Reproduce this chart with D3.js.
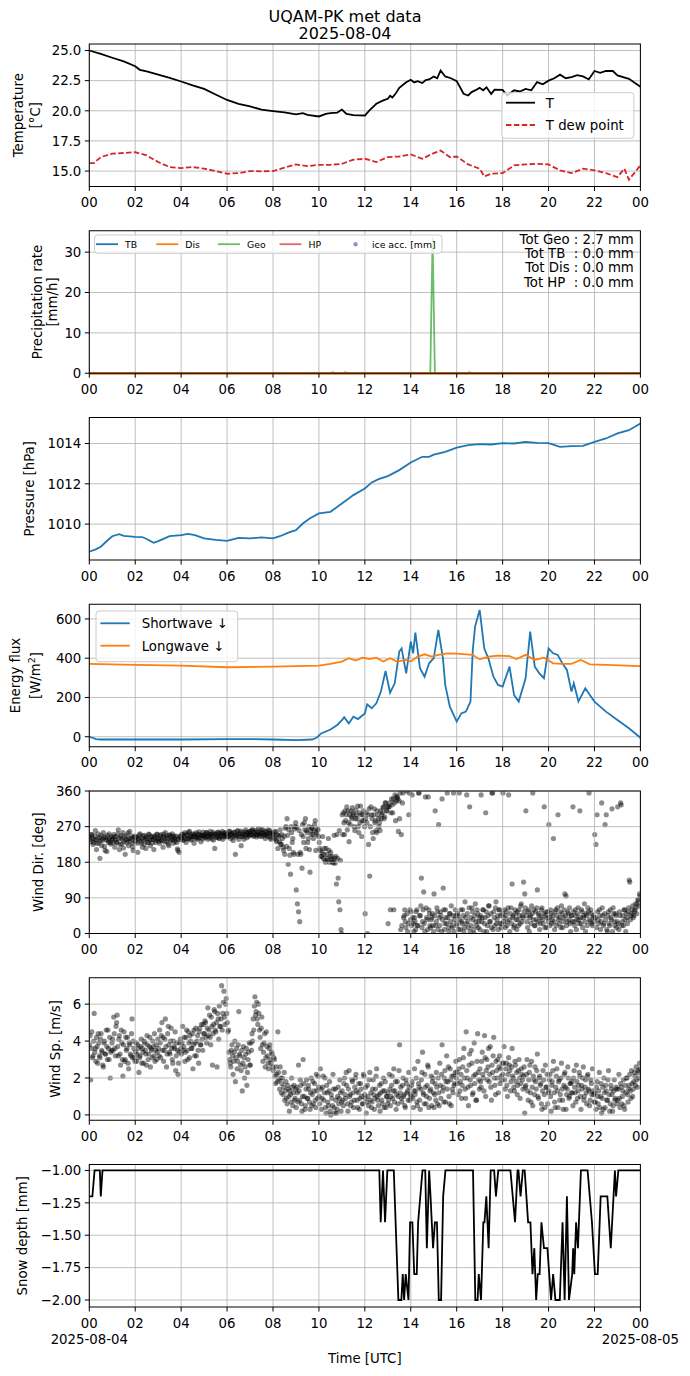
<!DOCTYPE html>
<html><head><meta charset="utf-8">
<script src="https://cdn.jsdelivr.net/npm/d3@7"></script>
<style>body{margin:0;background:#fff} text{font-family:"DejaVu Sans",sans-serif;fill:#000}</style>
</head><body><svg id="c" width="690" height="1376" xmlns="http://www.w3.org/2000/svg"></svg>
<script>
// ---------------- DATA ----------------
const hourTicks = [0,2,4,6,8,10,12,14,16,18,20,22,24];
const hourLabels = ["00","02","04","06","08","10","12","14","16","18","20","22","00"];

const tHours = [0,0.5,1,1.5,2,2.2,2.5,3,3.5,4,4.5,5,5.5,6,6.5,7,7.5,8,8.5,9,9.3,9.5,10,10.3,10.5,10.8,11,11.2,11.5,12,12.2,12.5,12.8,13,13.1,13.2,13.35,13.5,13.8,14,14.15,14.3,14.5,14.65,14.8,15,15.15,15.3,15.5,15.75,16,16.3,16.5,16.65,16.8,17,17.15,17.3,17.5,17.65,18,18.2,18.5,18.75,19,19.25,19.5,19.75,20,20.25,20.5,20.75,21,21.25,21.5,21.75,22,22.25,22.5,22.8,23,23.5,24];
const tVals = [25.0,24.72,24.4,24.1,23.7,23.4,23.26,23.0,22.73,22.43,22.1,21.82,21.35,20.9,20.58,20.36,20.1,19.97,19.86,19.7,19.8,19.67,19.53,19.75,19.8,19.85,20.1,19.75,19.64,19.61,20.03,20.58,20.86,20.99,21.25,21.1,21.45,21.9,22.37,22.57,22.35,22.45,22.3,22.55,22.6,22.85,22.7,23.35,22.85,22.7,22.46,21.41,21.27,21.55,21.69,21.9,21.7,21.95,21.4,21.75,21.74,21.27,21.7,21.6,21.82,21.7,22.38,22.2,22.5,22.7,23.0,22.7,22.8,22.95,22.85,22.6,23.3,23.15,23.3,23.3,22.93,22.65,22.0];

const tdHours = [0,0.2,0.5,1,1.5,2,2.5,3,3.5,4,4.5,5,5.5,6,6.5,7,7.5,8,8.5,9,9.5,10,10.5,11,11.5,12,12.5,13,13.5,14,14.5,15,15.3,15.7,16,16.5,17,17.2,17.5,18,18.5,19,19.5,20,20.5,21,21.5,22,22.5,23,23.3,23.5,24];
const tdVals = [15.66,15.66,16.16,16.44,16.5,16.57,16.3,15.75,15.33,15.25,15.33,15.2,15.0,14.78,14.83,15.0,14.98,15.0,15.28,15.55,15.41,15.52,15.52,15.6,15.94,16.02,15.75,16.16,16.21,16.38,16.02,16.49,16.7,16.16,16.21,15.55,15.2,14.56,14.78,14.83,15.47,15.55,15.6,15.55,15.06,14.83,15.2,15.06,14.83,14.5,15.2,14.28,15.47];

const precipHours = [0,10.55,10.6,10.65,11.1,11.15,11.2,14.85,14.95,15.05,16.5,16.55,16.6,24];
const precipGeo = [0,0,0.3,0,0,0.3,0,0,33.6,0,0,0.3,0,0];
const precipTB = [0,0,0,0,0,0,0,0,0,0,0,0,0,0];
const precipDis = [0,0,0,0,0,0,0,0,0,0,0,0,0,0];
const precipHP = [0,0,0,0,0,0,0,0,0,0,0,0,0,0];
const precipTotals = ["Tot Geo : 2.7 mm","Tot TB  : 0.0 mm","Tot Dis : 0.0 mm","Tot HP  : 0.0 mm"];

const pHours = [0,0.3,0.5,0.8,1.0,1.3,1.5,2.0,2.3,2.5,2.8,3.0,3.5,4.0,4.3,4.6,5.0,5.5,6.0,6.5,7.0,7.5,8.0,8.3,8.7,9.0,9.3,9.6,10.0,10.5,11.0,11.5,12.0,12.3,12.6,13.0,13.5,14.0,14.5,14.8,15.0,15.5,16.0,16.5,17.0,17.5,18.0,18.5,19.0,19.5,20.0,20.5,21.0,21.5,22.0,22.5,23.0,23.5,24.0];
const pVals = [1008.63,1008.76,1008.88,1009.2,1009.4,1009.5,1009.42,1009.37,1009.36,1009.26,1009.07,1009.16,1009.4,1009.45,1009.52,1009.45,1009.29,1009.22,1009.17,1009.32,1009.29,1009.34,1009.29,1009.4,1009.59,1009.7,1010.03,1010.28,1010.53,1010.61,1011.02,1011.44,1011.77,1012.07,1012.23,1012.38,1012.68,1013.06,1013.34,1013.34,1013.45,1013.59,1013.8,1013.92,1013.97,1013.95,1014.02,1014.0,1014.08,1014.03,1014.02,1013.83,1013.87,1013.88,1014.08,1014.25,1014.5,1014.66,1014.99];

const swHours = [0,0.3,0.5,2,4,6,7,8,9,9.7,9.9,10.1,10.5,10.8,11.0,11.1,11.3,11.5,11.7,12.0,12.1,12.3,12.5,12.7,12.9,13.1,13.3,13.5,13.6,13.8,14.0,14.1,14.2,14.4,14.6,14.8,15.0,15.2,15.4,15.5,15.7,16.0,16.2,16.4,16.6,16.7,16.8,17.0,17.2,17.4,17.6,17.8,18.0,18.3,18.5,18.7,19.0,19.2,19.4,19.6,19.8,20.0,20.2,20.4,20.6,20.8,21.0,21.1,21.3,21.6,21.8,22.0,22.5,23.0,23.5,24.0];
const swVals = [0,-12,-14,-14,-14,-12,-12,-14,-17,-14,-5,17,37,60,85,99,68,102,90,119,165,145,170,230,335,224,272,434,450,323,485,425,530,349,306,374,400,544,400,264,153,77,119,128,179,442,561,646,450,391,306,264,255,357,212,179,298,536,357,323,298,450,425,417,374,340,230,272,179,247,212,179,128,85,43,-5];
const lwHours = [0,2,4,6,8,10,10.5,11,11.3,11.6,11.9,12.2,12.5,12.8,13.1,13.4,13.8,14.0,14.3,14.6,14.9,15.2,15.6,16.0,16.7,17.0,17.4,17.8,18.3,18.6,19.0,19.4,19.8,20.2,20.6,21.0,21.4,21.8,22.5,24.0];
const lwVals = [371,366,362,354,357,362,371,383,400,388,403,396,403,383,400,383,391,383,408,420,408,417,425,423,417,394,408,413,411,396,417,391,403,374,371,371,391,369,366,360];

// wind: one row per hour, 40 samples (every 1.5 min)
const windDir = [
[245,238,232,250,250,241,225,230,238,247,260,236,212,228,240,252,228,243,190,235,248,222,235,240,255,244,220,210,242,236,207,248,236,230,252,241,230,226,245,238],
[238,229,250,244,218,236,245,231,230,252,262,240,212,225,242,248,226,238,255,216,232,244,200,237,248,229,236,254,222,240,258,233,240,246,228,219,210,242,246,235],
[232,243,245,228,205,238,240,249,252,233,228,241,218,247,236,226,248,239,215,244,240,230,230,251,250,236,222,244,238,229,245,238,212,247,242,230,235,251,250,239],
[240,233,228,246,250,236,235,243,218,251,245,232,255,241,232,247,240,226,222,249,248,236,236,245,252,238,228,247,242,233,238,246,230,214,210,238,205,244,246,237],
[242,251,250,238,235,247,255,241,230,252,248,239,240,256,258,244,236,249,245,238,252,246,228,251,246,240,255,244,238,250,242,257,250,243,232,248,248,239,256,247],
[250,244,242,255,255,246,238,252,248,242,258,250,245,239,252,256,236,247,215,252,250,243,244,255,256,241,240,253,248,246,252,258,238,244,255,249,246,255,250,244],
[252,246,245,258,258,249,240,253,250,244,235,256,255,247,200,244,248,258,260,251,238,246,252,259,222,245,256,251,245,238,250,257,262,249,242,254,255,246,248,258],
[258,251,250,262,262,248,245,257,255,250,260,244,248,256,265,251,252,246,256,262,245,254,262,248,250,257,240,250,258,246,252,262,246,253,260,241,238,254,255,249],
[250,243,240,256,258,236,232,250,215,245,248,232,262,226,225,250,240,218,210,246,200,266,270,220,290,248,175,262,215,198,150,270,255,230,240,205,200,264,270,280],
[110,268,75,200,55,260,30,205,200,250,165,275,245,230,280,262,290,215,260,255,230,240,270,212,155,260,250,268,265,250,240,260,275,285,210,255,250,264,262,245],
[230,215,210,195,195,205,245,190,200,215,185,180,215,200,190,185,240,210,180,195,205,188,195,180,185,178,248,190,178,195,125,250,190,140,80,260,60,185,10,0],
[300,250,305,280,250,310,285,300,320,262,310,280,232,300,275,310,295,290,318,305,300,270,260,290,312,300,290,322,270,255,305,280,322,300,245,285,300,310,285,270],
[50,290,305,280,0,300,225,315,145,270,320,300,290,255,240,300,315,280,285,260,255,310,300,290,270,280,260,310,290,300,305,318,320,290,295,330,330,310,310,320],
[25,320,320,330,60,305,340,325,305,340,60,330,350,285,335,345,345,340,258,335,290,355,10,250,20,330,355,40,45,60,30,15,360,50,5,25,300,355,60,35],
[55,20,350,40,25,5,40,30,10,55,60,20,20,355,355,45,45,70,140,15,30,60,105,25,5,345,65,40,35,10,345,60,50,20,15,35,40,50,20,5],
[100,45,310,20,30,65,55,10,275,40,20,55,45,5,340,35,115,60,10,25,60,40,25,355,40,15,5,50,50,30,70,20,15,45,355,5,35,60,45,25],
[20,50,45,10,355,35,10,60,30,25,60,45,5,15,80,40,25,350,50,30,15,65,320,5,40,20,65,55,35,10,0,45,75,30,20,60,50,15,30,40],
[10,45,350,30,40,60,60,5,25,40,305,55,5,20,45,70,70,30,30,50,15,355,355,10,55,40,20,65,80,25,35,45,10,60,60,25,45,15,25,50],
[355,30,40,60,15,45,55,20,30,65,350,35,5,50,65,25,125,40,45,15,20,60,50,35,10,55,35,20,60,45,25,70,75,30,45,40,130,55,100,65],
[310,45,30,15,55,60,5,40,45,25,70,50,355,35,60,20,20,55,35,65,110,30,50,45,10,25,40,60,65,35,25,50,320,15,45,55,15,40,55,30],
[275,40,20,60,50,25,35,45,240,30,10,55,60,20,45,65,300,35,25,40,55,15,70,50,15,30,40,60,100,45,95,20,30,55,50,35,65,25,5,45],
[45,30,320,55,30,20,60,45,10,35,50,65,35,25,310,40,25,60,55,15,40,45,75,30,5,50,45,20,65,55,355,35,30,60,50,25,20,45,40,30],
[250,40,225,15,300,55,35,25,60,45,10,30,330,65,45,20,25,50,275,35,300,10,5,45,55,25,20,60,40,35,315,5,65,50,30,20,50,45,15,30],
[320,25,10,55,45,330,325,20,30,45,20,60,60,35,5,50,40,25,55,65,135,130,35,45,50,60,70,40,45,55,60,75,65,50,75,85,85,70,100,95]
];
const windSp = [
[3.8,4.3,1.9,3.6,4.5,3.1,3.2,4.0,5.5,3.4,3.6,2.9,4.2,3.7,2.8,4.4,3.9,3.2,3.1,4.1,4.4,3.5,3.4,2.7,2.6,3.9,4.0,3.3,3.3,4.6,3.7,3.0,4.6,3.6,3.0,4.2,2.0,3.4,3.5,3.9],
[4.1,3.5,5.3,4.4,3.6,3.2,4.8,5.0,5.4,3.7,3.2,4.1,4.3,3.3,2.7,4.6,3.9,3.0,2.1,3.8,4.5,2.9,3.0,4.2,3.5,3.6,4.2,2.8,2.5,3.9,3.8,3.3,3.2,4.4,5.2,3.1,4.0,3.6,3.1,2.9],
[3.4,3.9,2.9,3.3,3.8,3.6,2.3,3.1,3.2,3.7,4.1,2.8,3.6,3.4,2.8,4.0,3.9,3.5,3.3,2.7,4.3,3.8,3.0,3.3,3.7,4.2,2.6,3.6,3.5,3.1,4.0,3.7,3.2,4.4,2.9,3.5,3.8,3.0,3.4,4.1],
[3.6,3.2,4.6,3.9,3.1,4.3,5.0,3.5,4.2,2.9,3.5,4.1,5.2,3.7,2.6,3.3,4.4,4.8,3.8,3.4,3.3,4.0,4.7,3.6,3.0,2.8,4.0,3.7,3.6,4.5,2.4,3.2,3.9,3.5,2.2,2.8,3.4,3.9,4.1,3.6],
[3.3,3.9,4.8,3.5,3.7,4.2,2.9,3.4,4.2,4.6,3.5,3.0,4.5,3.9,3.1,4.3,4.0,3.6,3.6,4.4,2.5,3.8,4.6,3.2,3.9,4.7,3.2,4.0,4.3,3.5,2.8,4.5,4.7,3.8,3.8,4.9,4.1,3.5,4.9,4.4],
[4.4,5.1,5.0,4.2,3.9,4.7,5.8,4.3,4.6,5.4,4.2,3.8,5.3,4.8,2.7,4.4,4.9,5.7,5.6,4.6,4.5,5.0,2.6,5.5,5.2,4.1,5.9,4.8,4.8,5.2,7.0,4.6,5.5,6.1,6.7,5.3,4.9,6.0,6.3,5.5],
[5.0,4.5,4.6,3.4,3.0,2.8,2.6,3.5,3.8,3.2,2.2,2.9,3.4,4.0,1.8,3.1,3.6,2.5,2.9,3.8,5.6,3.3,3.2,2.7,2.4,3.5,1.3,2.8,3.7,3.1,2.0,2.6,3.3,3.6,1.6,2.3,3.0,3.4,3.9,2.7],
[2.7,3.9,3.5,4.4,4.0,5.2,4.6,5.9,6.4,5.4,5.6,6.1,5.2,4.9,6.0,5.5,4.6,4.2,3.6,4.7,5.3,3.8,2.9,3.4,3.9,4.4,2.6,3.1,4.5,3.7,3.2,2.8,2.5,3.6,3.8,3.0,2.8,3.4,3.3,2.6],
[2.4,3.1,3.0,2.1,1.7,2.6,2.2,1.8,4.5,2.3,1.9,1.4,2.6,2.0,1.2,1.7,2.0,1.1,1.5,2.3,0.8,1.3,1.8,0.9,0.6,1.6,1.4,1.0,0.2,1.3,1.1,0.7,2.0,1.5,0.5,1.2,1.6,0.8,0.9,1.4],
[0.4,1.5,1.2,0.7,2.7,1.3,0.8,1.9,1.6,0.6,0.2,1.0,3.0,1.7,1.0,0.3,0.5,1.4,1.9,0.9,0.9,1.6,1.4,0.7,0.3,1.2,2.0,0.5,1.1,1.8,0.6,1.3,1.7,0.8,0.4,2.2,1.3,0.9,2.1,1.5],
[1.0,0.6,2.5,1.4,0.3,0.9,1.5,2.1,0.8,1.2,2.0,0.4,0.1,1.6,1.2,0.7,0.5,1.3,1.8,0.2,0.0,1.1,0.9,0.5,2.2,1.4,0.4,0.1,1.4,0.8,0.1,0.3,1.0,1.5,0.6,0.9,1.9,1.2,0.2,0.7],
[1.3,0.8,0.5,1.7,2.0,1.1,0.9,2.3,1.6,0.6,0.2,1.4,2.4,1.0,1.1,0.5,0.7,1.9,1.8,1.2,0.4,0.8,1.5,2.0,2.2,1.3,0.8,0.4,1.2,1.7,0.3,0.9,1.7,1.4,1.0,0.6,0.6,2.2,2.1,1.1],
[0.9,1.5,0.1,0.7,1.6,1.0,0.5,1.9,2.3,0.8,1.2,0.4,0.7,1.4,1.9,1.1,0.3,0.9,1.4,2.1,2.5,1.0,0.8,0.5,1.1,1.6,0.2,1.2,1.7,0.8,0.6,1.3,2.0,0.4,1.3,1.8,0.4,1.0,1.0,0.6],
[1.2,0.8,2.2,1.4,0.5,1.0,1.6,2.1,0.9,1.3,2.5,0.7,1.3,1.8,0.3,1.1,1.8,0.6,1.0,2.4,3.8,1.2,1.5,0.9,0.7,1.6,2.0,1.0,1.1,0.5,0.4,1.9,1.7,1.2,1.3,0.8,2.3,1.5,0.8,1.1],
[1.0,1.6,1.8,0.9,0.4,1.3,2.5,1.1,1.3,2.0,0.7,0.5,2.9,1.7,1.5,0.8,0.3,1.4,1.9,2.3,3.4,1.2,1.1,0.6,2.2,1.5,0.6,1.0,1.6,2.7,2.6,0.4,0.9,1.3,1.4,2.1,0.5,1.8,2.0,1.2],
[0.4,1.1,1.7,0.8,2.3,1.5,0.6,2.0,1.2,0.5,2.8,1.6,0.9,2.2,3.8,1.3,1.5,0.7,2.0,2.4,0.7,1.8,3.2,1.4,1.8,2.6,1.0,0.6,2.5,1.9,0.5,2.1,1.4,1.2,2.1,1.6,1.7,2.3,2.9,2.0],
[2.3,1.7,1.1,2.5,3.0,1.3,1.8,2.2,0.9,1.6,2.6,3.1,3.6,2.0,1.4,0.9,4.5,2.4,2.0,1.5,0.5,2.7,3.3,1.9,1.6,3.5,2.8,1.1,1.2,2.1,3.9,1.7,2.2,0.8,0.8,2.9,4.4,2.3,1.9,1.4],
[2.5,1.8,1.5,2.9,3.4,2.2,2.0,1.3,4.3,3.1,1.0,2.4,3.0,1.9,2.6,3.6,1.8,2.2,3.7,1.5,0.8,2.7,2.3,3.2,4.2,2.0,1.6,1.1,2.9,2.4,2.0,3.0,1.2,2.6,3.2,1.7,2.5,2.1,1.9,2.8],
[2.2,2.8,3.7,1.9,1.4,2.5,2.8,1.6,1.0,2.2,3.1,2.7,2.4,1.3,1.8,2.6,3.6,2.1,2.0,1.5,1.3,2.9,2.7,1.8,2.3,1.1,1.6,2.4,3.0,2.0,0.9,1.7,2.5,2.2,1.9,1.4,2.1,2.6,0.1,1.5],
[1.6,2.2,3.0,1.3,0.8,1.9,2.3,2.7,1.2,0.7,2.9,1.5,0.5,2.1,1.9,1.1,2.6,1.8,1.4,2.4,3.3,1.0,0.9,2.0,2.1,1.6,1.7,0.6,0.3,1.3,2.4,1.9,1.1,0.4,2.7,1.5,1.5,2.2,0.6,1.2],
[1.3,1.9,2.2,1.0,0.2,1.6,1.8,2.4,2.9,1.2,0.7,0.4,1.5,2.1,2.5,1.3,0.4,1.8,1.9,0.8,1.1,2.0,2.8,1.4,0.8,0.3,1.6,2.2,2.3,1.5,0.3,1.1,1.4,2.6,2.0,0.9,1.0,1.7,1.7,1.2],
[1.8,1.2,0.5,2.0,2.4,1.5,1.2,0.7,2.7,1.8,0.9,1.3,1.6,2.3,2.1,1.0,0.3,1.6,1.4,2.0,2.6,0.8,1.0,1.5,1.9,1.2,0.6,2.1,2.2,1.4,1.3,0.5,0.8,1.9,1.7,1.1,2.5,1.3,1.1,0.7],
[1.2,0.7,0.3,1.5,1.8,1.0,0.6,1.3,2.3,0.4,1.0,1.7,0.1,0.9,1.5,0.3,2.0,1.2,0.4,1.6,1.3,0.8,0.8,1.9,2.4,1.1,0.2,0.6,1.6,1.4,1.1,0.2,0.5,1.3,1.9,0.8,0.9,1.5,1.4,0.6],
[0.8,1.4,2.2,0.9,0.4,1.7,1.5,0.6,1.0,1.3,1.9,0.5,0.3,1.6,1.2,2.0,2.0,1.1,0.7,1.4,1.6,2.2,1.3,0.9,2.4,1.7,1.0,1.4,1.8,2.3,2.1,1.6,2.6,1.9,1.5,2.4,2.3,2.0,2.8,2.5]
];

const snowHours = [0,0.134,0.23,0.46,0.5,0.575,12.63,12.69,12.79,12.88,12.98,13.26,13.46,13.59,13.65,13.71,13.78,13.9,13.97,14.07,14.15,14.26,14.32,14.51,14.63,14.7,14.8,14.86,14.97,15.05,15.14,15.22,15.32,15.41,15.51,16.71,16.81,16.91,16.96,17.06,17.16,17.21,17.29,17.39,17.48,17.63,17.71,17.81,18.34,18.54,18.65,18.69,18.78,18.88,18.96,19.11,19.21,19.3,19.38,19.46,19.53,19.61,19.69,19.8,19.95,20.11,20.2,20.3,20.49,20.61,20.7,20.8,20.89,21.03,21.07,21.12,21.2,21.28,21.41,21.7,21.89,22.02,22.14,22.27,22.56,22.71,22.89,22.94,23.04,24];
const snowVals = [-1.2,-1.2,-1.0,-1.0,-1.2,-1.0,-1.0,-1.4,-1.0,-1.4,-1.0,-1.0,-2.0,-2.0,-1.8,-2.0,-1.8,-2.0,-1.4,-1.4,-1.8,-1.8,-1.4,-1.0,-1.0,-1.6,-1.0,-1.2,-1.6,-1.4,-1.4,-2.0,-2.0,-1.2,-1.0,-1.0,-2.0,-2.0,-1.8,-2.0,-1.4,-1.4,-1.2,-1.6,-1.0,-1.0,-1.2,-1.0,-1.0,-1.4,-1.0,-1.0,-1.2,-1.0,-1.0,-1.4,-1.4,-1.8,-1.6,-2.0,-1.8,-1.8,-1.4,-1.6,-1.6,-2.0,-1.8,-2.0,-2.0,-1.4,-2.0,-1.2,-2.0,-1.8,-1.6,-1.8,-1.4,-1.6,-1.0,-1.0,-1.4,-1.8,-1.8,-1.2,-1.2,-1.6,-1.0,-1.2,-1.0,-1.0];

// ---------------- DRAWING ----------------
const svg = d3.select("#c");
const L = 89.3, R = 640.4, T0 = 44, STEP = 186.75, PH = 142.5;
const FS = 13.3;
const x = d3.scaleLinear().domain([0, 24]).range([L, R]);
const defs = svg.append("defs");

function makePanel(i, domain, ticks, fmt, gridAbove) {
  const top = T0 + STEP * i, bot = top + PH;
  const y = d3.scaleLinear().domain(domain).range([bot, top]);
  const g = svg.append("g");
  defs.append("clipPath").attr("id", "clip" + i).append("rect")
    .attr("x", L).attr("y", top).attr("width", R - L).attr("height", PH);
  const below = g.append("g").attr("clip-path", "url(#clip" + i + ")");
  const grid = g.append("g");
  const above = g.append("g").attr("clip-path", "url(#clip" + i + ")");
  grid.selectAll("line.gx").data(hourTicks).join("line")
    .attr("x1", d => x(d)).attr("x2", d => x(d)).attr("y1", top).attr("y2", bot)
    .attr("stroke", "#b0b0b0").attr("stroke-width", 0.8);
  grid.selectAll("line.gy").data(ticks).join("line")
    .attr("x1", L).attr("x2", R).attr("y1", d => y(d)).attr("y2", d => y(d))
    .attr("stroke", "#b0b0b0").attr("stroke-width", 0.8);
  const dataLayer = gridAbove ? below : above;
  const axes = svg.append("g");
  function finish() {
    axes.raise();
    axes.append("rect").attr("x", L).attr("y", top).attr("width", R - L).attr("height", PH)
      .attr("fill", "none").attr("stroke", "#000").attr("stroke-width", 1);
    axes.selectAll("line.tx").data(hourTicks).join("line")
      .attr("x1", d => x(d)).attr("x2", d => x(d)).attr("y1", bot).attr("y2", bot + 4.5)
      .attr("stroke", "#000").attr("stroke-width", 1);
    axes.selectAll("text.tx").data(hourTicks).join("text")
      .attr("x", d => x(d)).attr("y", bot + 20.5).attr("text-anchor", "middle")
      .attr("font-size", FS).text((d, k) => hourLabels[k]);
    axes.selectAll("line.ty").data(ticks).join("line")
      .attr("x1", L - 4.5).attr("x2", L).attr("y1", d => y(d)).attr("y2", d => y(d))
      .attr("stroke", "#000").attr("stroke-width", 1);
    axes.selectAll("text.ty").data(ticks).join("text")
      .attr("x", L - 8).attr("y", d => y(d) + 4.85).attr("text-anchor", "end")
      .attr("font-size", FS).text(d => fmt(d));
  }
  return { y, top, bot, layer: dataLayer, axes, finish };
}

function yLabel(cx, cy, txt, sup) {
  const t = svg.append("text").attr("transform", `translate(${cx},${cy}) rotate(-90)`)
    .attr("text-anchor", "middle").attr("dy", "0.35em").attr("font-size", FS).text(txt);
  if (sup) {
    t.append("tspan").attr("font-size", 9.5).attr("dy", "-0.5em").text(sup.s);
    t.append("tspan").attr("dy", "0.45em").text(sup.after);
  }
  return t;
}

function legendBox(x0, y0, w, h) {
  svg.append("rect").attr("x", x0).attr("y", y0).attr("width", w).attr("height", h)
    .attr("rx", 3).attr("fill", "#fff").attr("fill-opacity", 0.8)
    .attr("stroke", "#cccccc").attr("stroke-width", 1);
}

const lineGen = (xs, ys, y) => d3.line().x((d, k) => x(xs[k])).y((d, k) => y(ys[k]))(ys);

// Title
svg.append("text").attr("x", 345).attr("y", 22).attr("text-anchor", "middle").attr("font-size", 16).text("UQAM-PK met data");
svg.append("text").attr("x", 345).attr("y", 38.5).attr("text-anchor", "middle").attr("font-size", 16).text("2025-08-04");

// Panel 1: temperature
{
  const p = makePanel(0, [13.72, 25.54], [15, 17.5, 20, 22.5, 25], d3.format(".1f"), false);
  p.layer.append("path").attr("d", lineGen(tHours, tVals, p.y)).attr("fill", "none").attr("stroke", "#000").attr("stroke-width", 1.8);
  p.layer.append("path").attr("d", lineGen(tdHours, tdVals, p.y)).attr("fill", "none").attr("stroke", "#d62728").attr("stroke-width", 1.8).attr("stroke-dasharray", "5.5,2.4");
  p.finish();
  yLabel(18.5, (p.top + p.bot) / 2, "Temperature");
  yLabel(35, (p.top + p.bot) / 2, "[°C]");
  legendBox(501.8, 92.7, 132, 45.6);
  svg.append("line").attr("x1", 506).attr("x2", 535).attr("y1", 102.7).attr("y2", 102.7).attr("stroke", "#000").attr("stroke-width", 1.8);
  svg.append("text").attr("x", 545.8).attr("y", 107.5).attr("font-size", FS).text("T");
  svg.append("line").attr("x1", 506).attr("x2", 535).attr("y1", 125).attr("y2", 125).attr("stroke", "#d62728").attr("stroke-width", 1.8).attr("stroke-dasharray", "5.5,2.4");
  svg.append("text").attr("x", 545.8).attr("y", 129.8).attr("font-size", FS).text("T dew point");
}

// Panel 2: precipitation
{
  const p = makePanel(1, [0, 35.3], [0, 10, 20, 30], d3.format("d"), false);
  const series = [
    { v: precipTB, c: "#1f77b4", a: 1, n: "TB" },
    { v: precipDis, c: "#ff7f0e", a: 1, n: "Dis" },
    { v: precipGeo, c: "#2ca02c", a: 0.7, n: "Geo" },
    { v: precipHP, c: "#d62728", a: 0.7, n: "HP" }
  ];
  const lay = svg.append("g");
  [0, 2, 3, 1].forEach(k => {
    const s = series[k];
    lay.append("path").attr("d", lineGen(precipHours, s.v, p.y)).attr("fill", "none")
      .attr("stroke", s.c).attr("stroke-opacity", s.a).attr("stroke-width", 1.8);
  });
  p.finish();
  yLabel(37.4, (p.top + p.bot) / 2, "Precipitation rate");
  yLabel(52.8, (p.top + p.bot) / 2, "[mm/h]");
  legendBox(94.6, 235, 347.4, 18.3);
  const cols = [96, 156.3, 218, 279.5];
  series.forEach((s, k) => {
    svg.append("line").attr("x1", cols[k]).attr("x2", cols[k] + 22).attr("y1", 244.2).attr("y2", 244.2)
      .attr("stroke", s.c).attr("stroke-opacity", s.a).attr("stroke-width", 1.8);
    svg.append("text").attr("x", cols[k] + 29).attr("y", 247.5).attr("font-size", 9.3).text(s.n);
  });
  svg.append("circle").attr("cx", 355.6).attr("cy", 244.2).attr("r", 2.2).attr("fill", "#9467bd").attr("fill-opacity", 0.8);
  svg.append("text").attr("x", 372).attr("y", 247.5).attr("font-size", 9.3).text("ice acc. [mm]");
  precipTotals.forEach((t, k) => {
    svg.append("text").attr("x", 633.8).attr("y", 244 + 14.2 * k).attr("text-anchor", "end")
      .attr("font-size", 13.3).style("white-space", "pre").text(t);
  });
}

// Panel 3: pressure
{
  const p = makePanel(2, [1008.22, 1015.29], [1010, 1012, 1014], d3.format("d"), false);
  p.layer.append("path").attr("d", lineGen(pHours, pVals, p.y)).attr("fill", "none").attr("stroke", "#1f77b4").attr("stroke-width", 1.8);
  p.finish();
  yLabel(29.5, (p.top + p.bot) / 2, "Pressure [hPa]");
}

// Panel 4: energy flux
{
  const p = makePanel(3, [-51, 674.8], [0, 200, 400, 600], d3.format("d"), false);
  p.layer.append("path").attr("d", lineGen(swHours, swVals, p.y)).attr("fill", "none").attr("stroke", "#1f77b4").attr("stroke-width", 1.8);
  p.layer.append("path").attr("d", lineGen(lwHours, lwVals, p.y)).attr("fill", "none").attr("stroke", "#ff7f0e").attr("stroke-width", 1.8);
  p.finish();
  yLabel(15.4, (p.top + p.bot) / 2, "Energy flux");
  yLabel(35.2, (p.top + p.bot) / 2, "[W/m", { s: "2", after: "]" });
  legendBox(96, 611, 141.7, 50.7);
  svg.append("line").attr("x1", 100.4).attr("x2", 129.8).attr("y1", 623.3).attr("y2", 623.3).attr("stroke", "#1f77b4").attr("stroke-width", 1.8);
  svg.append("text").attr("x", 141.7).attr("y", 628.1).attr("font-size", FS).text("Shortwave ↓");
  svg.append("line").attr("x1", 100.4).attr("x2", 129.8).attr("y1", 645.7).attr("y2", 645.7).attr("stroke", "#ff7f0e").attr("stroke-width", 1.8);
  svg.append("text").attr("x", 141.7).attr("y", 650.5).attr("font-size", FS).text("Longwave ↓");
}

// scatter helper
function scatter(p, rows) {
  const pts = [];
  rows.forEach((row, h) => row.forEach((v, k) => pts.push([h + (k + 0.5) / row.length, v])));
  p.layer.selectAll("circle").data(pts).join("circle")
    .attr("cx", d => x(d[0])).attr("cy", d => p.y(d[1])).attr("r", 2.6)
    .attr("fill", "#000").attr("fill-opacity", 0.45);
}

// Panel 5: wind direction
{
  const p = makePanel(4, [0, 360], [0, 90, 180, 270, 360], d3.format("d"), true);
  scatter(p, windDir);
  p.finish();
  yLabel(38.7, (p.top + p.bot) / 2, "Wind Dir. [deg]");
}

// Panel 6: wind speed
{
  const p = makePanel(5, [-0.29, 7.43], [0, 2, 4, 6], d3.format("d"), true);
  scatter(p, windSp);
  p.finish();
  yLabel(55, (p.top + p.bot) / 2, "Wind Sp. [m/s]");
}

// Panel 7: snow depth
{
  const p = makePanel(6, [-2.054, -0.954], [-2, -1.75, -1.5, -1.25, -1], d3.format(".2f"), false);
  p.layer.append("path").attr("d", lineGen(snowHours, snowVals, p.y)).attr("fill", "none").attr("stroke", "#000").attr("stroke-width", 1.8);
  p.finish();
  yLabel(22, (p.top + p.bot) / 2, "Snow depth [mm]");
  svg.append("text").attr("x", x(0)).attr("y", p.bot + 36.5).attr("text-anchor", "middle").attr("font-size", FS).text("2025-08-04");
  svg.append("text").attr("x", x(24)).attr("y", p.bot + 36.5).attr("text-anchor", "middle").attr("font-size", FS).text("2025-08-05");
  svg.append("text").attr("x", (L + R) / 2).attr("y", p.bot + 56).attr("text-anchor", "middle").attr("font-size", FS).text("Time [UTC]");
}
</script></body></html>
